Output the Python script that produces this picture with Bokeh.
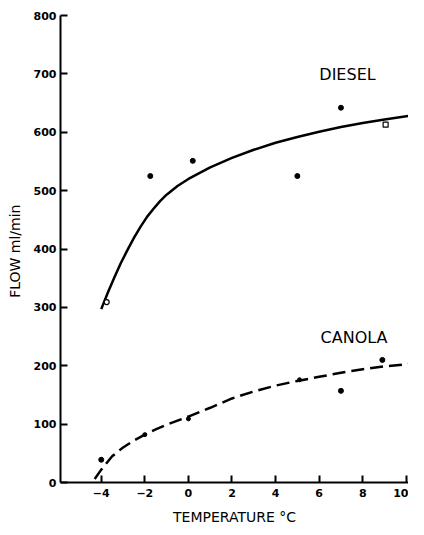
from bokeh.plotting import figure
from bokeh.models import Range1d, FixedTicker
from bokeh.embed import file_html
from bokeh.resources import INLINE
from bokeh.core.properties import value

# ---- data ----
temp_ticks = [-4, -2, 0, 2, 4, 6, 8, 10]
flow_ticks = [0, 100, 200, 300, 400, 500, 600, 700, 800]

diesel_temp = [-1.75, 0.2, 5.0, 7.0]
diesel_flow = [525, 551, 525, 642]
diesel_open_temp = [-3.75]
diesel_open_flow = [309]
diesel_sq_temp = [9.05]
diesel_sq_flow = [613]

diesel_curve_temp = [-4.0, -3.7, -3.4, -3.1, -2.8, -2.5, -2.2, -1.9, -1.6, -1.3,
                     -1.0, -0.5, 0.0, 1.0, 2.0, 3.0, 4.0, 5.0, 6.0, 7.0, 8.0,
                     9.0, 10.1]
diesel_curve_flow = [297, 325, 351, 376, 398, 419, 438, 455, 469, 482,
                     493, 508, 520, 540, 556, 570, 582, 592, 601, 609, 616,
                     622, 628]

canola_temp = [-4.0, 7.0, 8.9]
canola_flow = [39, 157, 210]
canola_online_temp = [-2.0, 0.0, 5.1]
canola_online_flow = [82, 109, 176]

canola_curve_temp = [-4.3, -4.0, -3.5, -3.0, -2.5, -2.0, -1.5, -1.0, -0.5, 0.0,
                     1.0, 2.0, 3.0, 4.0, 5.0, 6.0, 7.0, 8.0, 9.0, 10.1]
canola_curve_flow = [6, 22, 45, 60, 72, 82, 91, 99, 106, 113,
                     128, 144, 156, 166, 174, 181, 188, 194, 199, 203]

label_names = ["DIESEL", "CANOLA"]
label_temp = [7.3, 7.6]
label_flow = [699, 249]

FONT = "DejaVu Sans"

p = figure(width=408, height=527, output_backend="svg", toolbar_location=None,
           x_range=Range1d(-5.87, 10.1), y_range=Range1d(0, 800),
           min_border_left=60, min_border_right=0, min_border_top=15,
           min_border_bottom=0)
p.outline_line_color = None
p.xgrid.grid_line_color = None
p.ygrid.grid_line_color = None
p.background_fill_color = "white"
p.border_fill_color = "white"

for ax in (p.xaxis[0], p.yaxis[0]):
    ax.axis_line_width = 2
    ax.axis_line_color = "black"
    ax.major_tick_in = 7
    ax.major_tick_out = 0
    ax.major_tick_line_width = 2
    ax.minor_tick_in = 0
    ax.minor_tick_out = 0
    ax.major_label_text_font = FONT
    ax.major_label_text_font_style = "bold"
    ax.major_label_text_font_size = "11px"
    ax.major_label_text_color = "black"
    ax.axis_label_text_font = FONT
    ax.axis_label_text_font_style = "normal"
    ax.axis_label_text_font_size = "14px"
    ax.axis_label_text_color = "black"

p.xaxis[0].ticker = FixedTicker(ticks=temp_ticks)
p.xaxis[0].major_label_standoff = 6
p.xaxis[0].axis_label = "TEMPERATURE °C"
p.xaxis[0].axis_label_standoff = 9

p.yaxis[0].ticker = FixedTicker(ticks=flow_ticks)
p.yaxis[0].major_label_standoff = 4
p.yaxis[0].axis_label = "FLOW  ml/min"
p.yaxis[0].axis_label_standoff = 8

# curves
p.line(diesel_curve_temp, diesel_curve_flow, line_color="black", line_width=2.5)
p.line(canola_curve_temp, canola_curve_flow, line_color="black", line_width=2.5,
       line_dash="13 6")

# points
p.scatter(diesel_temp, diesel_flow, marker="circle", size=5, color="black")
p.scatter(diesel_open_temp, diesel_open_flow, marker="circle", size=5,
          fill_color="white", line_color="black", line_width=1.2)
p.scatter(diesel_sq_temp, diesel_sq_flow, marker="square", size=5,
          fill_color="white", line_color="black", line_width=1.2)
p.scatter(canola_temp, canola_flow, marker="circle", size=5, color="black")
p.scatter(canola_online_temp, canola_online_flow, marker="circle", size=4,
          color="black")

p.text(label_temp, label_flow, text=label_names, text_font=value(FONT),
       text_font_size="16px", text_align="center", text_baseline="middle",
       text_color="black")

open("out.html", "w").write(file_html(p, INLINE))
